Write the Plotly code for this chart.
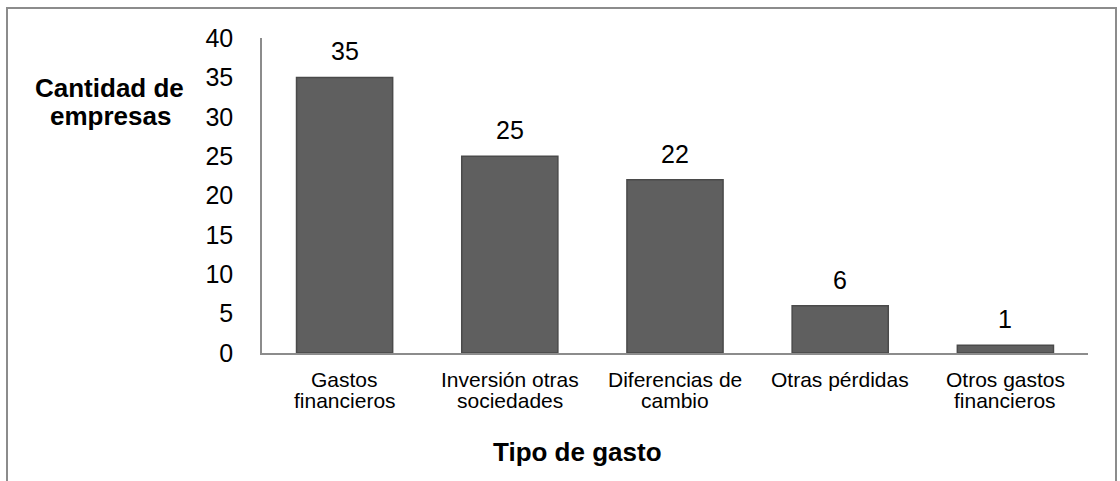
import plotly.graph_objects as go

cat_line1 = ["Gastos", "Inversión otras", "Diferencias de", "Otras pérdidas", "Otros gastos"]
cat_line2 = ["financieros", "sociedades", "cambio", "", "financieros"]
categories = [a + " " + b if b else a for a, b in zip(cat_line1, cat_line2)]
values = [35, 25, 22, 6, 1]
y_ticks = [0, 5, 10, 15, 20, 25, 30, 35, 40]

FONT = "Arial, Liberation Sans, sans-serif"

W, H = 1120, 481
PL, PR, PT, PB = 262, 1088, 38, 353  # plot area in pixels
L, R, T, B = PL, W - PR, PT, H - PB
pw, ph = PR - PL, PB - PT


def fx(X):
    return (X - PL) / pw


def fy(Y):
    return (PB - Y) / ph


fig = go.Figure()
fig.add_trace(go.Bar(
    x=categories, y=values,
    marker=dict(color="#5f5f5f", line=dict(color="#4a4a4a", width=1.5)),
    cliponaxis=False, hoverinfo="skip",
))

annotations = []
for c, v in zip(categories, values):
    annotations.append(dict(x=c, y=v, xref="x", yref="y", text=str(v), showarrow=False,
                            xanchor="center", yanchor="bottom", yshift=10,
                            font=dict(family=FONT, size=25, color="#000")))
for c, l1, l2 in zip(categories, cat_line1, cat_line2):
    annotations.append(dict(x=c, y=fy(379), xref="x", yref="paper", text=l1, showarrow=False,
                            xanchor="center", yanchor="middle",
                            font=dict(family=FONT, size=21, color="#000")))
    if l2:
        annotations.append(dict(x=c, y=fy(401), xref="x", yref="paper", text=l2, showarrow=False,
                                xanchor="center", yanchor="middle",
                                font=dict(family=FONT, size=21, color="#000")))
annotations += [
    dict(text="<b>Cantidad de</b>", xref="paper", yref="paper", x=fx(109), y=fy(88),
         showarrow=False, xanchor="center", yanchor="middle",
         font=dict(family=FONT, size=26, color="#000")),
    dict(text="<b>empresas</b>", xref="paper", yref="paper", x=fx(110), y=fy(116),
         showarrow=False, xanchor="center", yanchor="middle",
         font=dict(family=FONT, size=26, color="#000")),
    dict(text="<b>Tipo de gasto</b>", xref="paper", yref="paper", x=fx(577), y=fy(452),
         showarrow=False, xanchor="center", yanchor="middle",
         font=dict(family=FONT, size=26, color="#000")),
]

fig.update_layout(
    width=W, height=H,
    margin=dict(l=L, r=R, t=T, b=B, autoexpand=False),
    paper_bgcolor="white", plot_bgcolor="white",
    bargap=0.418, showlegend=False,
    font=dict(family=FONT, color="#000"),
    xaxis=dict(showline=True, linecolor="#8c8c8c", linewidth=1.5, showticklabels=False, ticks=""),
    yaxis=dict(range=[0, 40], tickvals=y_ticks, showline=True, linecolor="#8c8c8c", linewidth=1.5,
               showgrid=False, zeroline=False, tickfont=dict(family=FONT, size=25, color="#000"),
               ticks="", ticklabelstandoff=22),
    annotations=annotations,
    shapes=[dict(type="rect", xref="paper", yref="paper",
                 x0=fx(7), x1=fx(1116), y0=fy(520), y1=fy(8),
                 line=dict(color="#8c8c8c", width=2), fillcolor="rgba(0,0,0,0)", layer="below")],
)

fig.write_html("out.html", config={"displayModeBar": False},
               post_script="document.body.style.margin='0';document.body.style.overflow='hidden';")
